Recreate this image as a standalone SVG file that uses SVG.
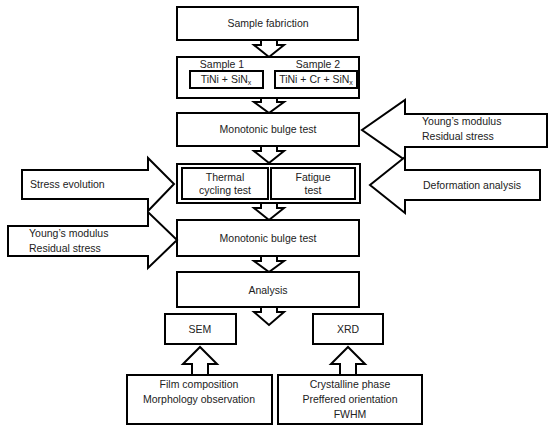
<svg xmlns="http://www.w3.org/2000/svg" width="550" height="434" viewBox="0 0 550 434">
<style>
.b{fill:#fff;stroke:#000;stroke-width:2}
.t{font-family:"Liberation Sans",Arial,sans-serif;font-size:10.5px;fill:#222;text-anchor:middle}
.l{text-anchor:start}
</style>
<rect width="550" height="434" fill="#fff"/>
<g id="connectors">
<polygon class="b" points="261,40 277,40 277,45 284,45 269,57 254,45 261,45"/>
<polygon class="b" points="261,98 277,98 277,102 284,102 269,113 254,102 261,102"/>
<polygon class="b" points="261,146 277,146 277,151 284,151 269,163 254,151 261,151"/>
<polygon class="b" points="261,203 277,203 277,208 284,208 269,220 254,208 261,208"/>
<polygon class="b" points="261,256 277,256 277,261 284,261 269,272 254,261 261,261"/>
<polygon class="b" points="261,307 277,307 277,312 284,312 269,325 254,312 261,312"/>
<polygon class="b" points="192,375 208,375 208,364 217,364 200,347 183,364 192,364"/>
<polygon class="b" points="340,375 356,375 356,364 365,364 348,347 331,364 340,364"/>
</g>
<g id="sample-fabrication"><rect class="b" x="177" y="7" width="181" height="33"/><text class="t" x="268" y="27">Sample fabriction</text></g>
<g id="samples">
<rect class="b" x="177" y="57" width="182" height="41"/>
<text class="t" x="222" y="68">Sample 1</text>
<text class="t" x="318" y="68">Sample 2</text>
<rect class="b" x="190" y="71" width="73" height="17"/>
<text class="t" x="226" y="83">TiNi + SiN<tspan font-size="7" dy="2">x</tspan></text>
<rect class="b" x="275" y="71" width="82" height="17"/>
<text class="t" x="316" y="83">TiNi + Cr + SiN<tspan font-size="7" dy="2">x</tspan></text>
</g>
<g id="bulge1"><rect class="b" x="177" y="113" width="182" height="33"/><text class="t" x="268" y="133">Monotonic bulge test</text></g>
<g id="in-young1">
<polygon class="b" points="547,114 405,114 405,100 362,130 405,160 405,147 547,147"/>
<text class="t l" x="422" y="125">Young’s modulus</text>
<text class="t l" x="422" y="140">Residual stress</text>
</g>
<g id="tests">
<rect class="b" x="177" y="164" width="183" height="39"/>
<rect class="b" x="182" y="168" width="86" height="31"/>
<text class="t" x="225" y="181">Thermal</text>
<text class="t" x="225" y="194">cycling test</text>
<rect class="b" x="271" y="168" width="84" height="31"/>
<text class="t" x="313" y="181">Fatigue</text>
<text class="t" x="313" y="194">test</text>
</g>
<g id="in-stress">
<polygon class="b" points="22,170 148,170 148,158 174,184 148,211 148,199 22,199"/>
<text class="t l" x="30" y="188">Stress evolution</text>
</g>
<g id="in-deform">
<polygon class="b" points="540,170 405,170 405,157 370,185 405,213 405,200 540,200"/>
<text class="t" x="472" y="189">Deformation analysis</text>
</g>
<g id="bulge2"><rect class="b" x="177" y="220" width="182" height="36"/><text class="t" x="268" y="242">Monotonic bulge test</text></g>
<g id="in-young2">
<polygon class="b" points="8,226 148,226 148,212 177,240 148,268 148,256 8,256"/>
<text class="t l" x="29" y="237">Young’s modulus</text>
<text class="t l" x="29" y="252">Residual stress</text>
</g>
<g id="analysis"><rect class="b" x="177" y="272" width="182" height="35"/><text class="t" x="268" y="294">Analysis</text></g>
<g id="sem"><rect class="b" x="165" y="314" width="71" height="30"/><text class="t" x="200" y="333">SEM</text></g>
<g id="xrd"><rect class="b" x="313" y="314" width="70" height="30"/><text class="t" x="348" y="333">XRD</text></g>
<g id="sem-info"><rect class="b" x="127" y="375" width="145" height="49"/>
<text class="t" x="199" y="388">Film composition</text>
<text class="t" x="199" y="403">Morphology observation</text></g>
<g id="xrd-info"><rect class="b" x="278" y="375" width="144" height="49"/>
<text class="t" x="350" y="388">Crystalline phase</text>
<text class="t" x="350" y="403">Preffered orientation</text>
<text class="t" x="350" y="418">FWHM</text></g>
</svg>
